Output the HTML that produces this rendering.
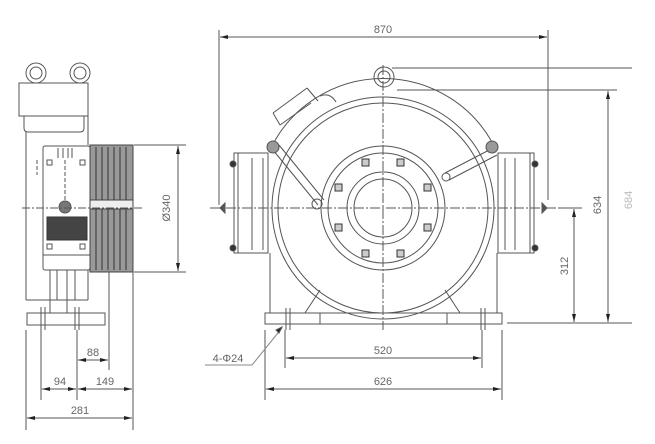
<!DOCTYPE html>
<html><head><meta charset="utf-8"><style>
html,body{margin:0;padding:0;background:#fff;}
svg{display:block}
text{font-family:"Liberation Sans",sans-serif;fill:#666;font-size:11px}
</style></head><body>
<svg width="655" height="444" viewBox="0 0 655 444" xmlns="http://www.w3.org/2000/svg">
<defs>
<marker id="a" markerWidth="8" markerHeight="6" refX="8" refY="3" orient="auto-start-reverse" markerUnits="userSpaceOnUse"><path d="M0,1 L8,3 L0,5z" fill="#222"/></marker>
</defs>
<g stroke="#555" stroke-width="1" fill="none">
<!-- ===== LEFT VIEW ===== -->
<circle cx="36" cy="73" r="10"/><circle cx="36" cy="73" r="6"/>
<circle cx="80" cy="73" r="10"/><circle cx="80" cy="73" r="6"/>
<rect x="19" y="83" width="69" height="33" fill="#fff"/>
<path d="M24 116 V128 Q24 132 28 132 H80 Q84 132 84 128 V116"/>
<path d="M26 132 V300 M88 116 V145"/>
<rect x="43" y="146" width="47" height="124" rx="2"/>
<path d="M43 255 H90"/>
<rect x="47" y="217" width="40" height="23" fill="#444" stroke="#333"/>
<circle cx="65" cy="207" r="6" fill="#777"/>
<path d="M58 148 v10 M63 148 v10 M68 148 v10 M72 148 v10"/>
<rect x="47" y="160" width="5" height="5"/><rect x="80" y="160" width="5" height="5"/>
<rect x="47" y="244" width="5" height="5"/><rect x="80" y="244" width="5" height="5"/>
<path d="M37 160 v15 M65 160 v40" stroke-dasharray="4,2"/>
<rect x="90" y="145" width="43" height="127" fill="#999" stroke="#444"/>
<path d="M96 147 V270 M102 147 V270 M108 147 V270 M114 147 V270 M120 147 V270 M126 147 V270" stroke="#333"/>
<rect x="90" y="200" width="43" height="9" fill="#eee" stroke="#444"/>
<path d="M22 208 H142" stroke-dasharray="8,2,2,2"/>
<path d="M50 270 V313 M57 270 V300 M67 270 V313 M75 270 V300 M88 270 V300"/>
<path d="M26 300 H88"/>
<rect x="27" y="313" width="78" height="12"/>
<path d="M41 307 V330 M45 307 V330 M75 307 V330 M79 307 V330"/>
<path d="M134 145 H186 M134 272 H186"/>
<path d="M178 146 V271" marker-start="url(#a)" marker-end="url(#a)"/>
<path d="M26 330 V430 M41 330 V400 M77 330 V400 M109 272 V370 M133 272 V430"/>
<path d="M78 360 H108" marker-start="url(#a)" marker-end="url(#a)"/>
<path d="M42 389 H76" marker-start="url(#a)" marker-end="url(#a)"/>
<path d="M78 389 H132" marker-start="url(#a)" marker-end="url(#a)"/>
<path d="M27 418 H132" marker-start="url(#a)" marker-end="url(#a)"/>

<!-- ===== FRONT VIEW ===== -->
<path d="M219 30 V205 M548 30 V200"/>
<path d="M220 37 H547" marker-start="url(#a)" marker-end="url(#a)"/>
<circle cx="384" cy="77" r="10"/><circle cx="384" cy="77" r="6"/>
<path d="M392 68 H632 M397 90 H617"/>
<circle cx="383" cy="208" r="111"/>
<circle cx="383" cy="208" r="105"/>
<circle cx="383" cy="208" r="62"/>
<circle cx="383" cy="208" r="55"/>
<circle cx="383" cy="208" r="36"/>
<circle cx="383" cy="208" r="29"/>
<g stroke="#333" fill="#ccc">
<rect x="362" y="159" width="7" height="7"/><rect x="397" y="159" width="7" height="7"/>
<rect x="335" y="184" width="7" height="7"/><rect x="424" y="184" width="7" height="7"/>
<rect x="335" y="224" width="7" height="7"/><rect x="424" y="224" width="7" height="7"/>
<rect x="362" y="250" width="7" height="7"/><rect x="397" y="250" width="7" height="7"/>
</g>
<path d="M270 150 A125 125 0 0 1 496 150"/>
<path d="M273 150 L318 205 M279 145 L324 200"/>
<circle cx="317" cy="204" r="5"/>
<path d="M493 148 L445 173 M497 155 L449 180"/>
<circle cx="446" cy="177" r="4"/>
<circle cx="273" cy="147" r="6" fill="#999"/><circle cx="492" cy="147" r="6" fill="#999"/>
<path d="M273 113 L307 88 M280 125 L311 103 M273 113 L280 125 M307 88 L318 101"/>
<path d="M320 96 Q330 92 336 102"/>
<rect x="234" y="153" width="34" height="100"/>
<path d="M238 153 V253 M252 158 V250 M263 158 V250"/>
<rect x="498" y="153" width="36" height="100"/>
<path d="M530 153 V253 M505 158 V250 M515 158 V250"/>
<circle cx="233" cy="164" r="3" fill="#333"/><circle cx="233" cy="248" r="3" fill="#333"/>
<circle cx="535" cy="164" r="3" fill="#333"/><circle cx="535" cy="248" r="3" fill="#333"/>
<path d="M225 203 l-5 5 l5 5 z M542 203 l5 5 l-5 5 z" fill="#555"/>
<path d="M270 253 V313 M497 253 V313"/>
<path d="M305 313 L320 290 M460 313 L445 290"/>
<rect x="265" y="313" width="237" height="11"/>
<path d="M286 308 V330 M290 308 V330 M481 308 V330 M485 308 V330 M320 313 V324 M447 313 V324"/>
<path d="M210 208 H582" stroke-dasharray="10,2,2,2"/>
<path d="M383 65 V330" stroke-dasharray="10,2,2,2"/>
<path d="M507 323 H632"/>
<path d="M608 91 V322" marker-start="url(#a)" marker-end="url(#a)"/>
<path d="M560 208 H580"/>
<path d="M574 209 V322" marker-start="url(#a)" marker-end="url(#a)"/>
<path d="M265 330 V400 M502 330 V400 M285 330 V368 M482 330 V368"/>
<path d="M286 358 H481" marker-start="url(#a)" marker-end="url(#a)"/>
<path d="M266 389 H501" marker-start="url(#a)" marker-end="url(#a)"/>
<path d="M205 365 H252 L282 328" stroke="#888"/>
<path d="M276 330 l6 -3 l-3 6 z" fill="#222"/>
</g>
<text x="383" y="33" text-anchor="middle">870</text>
<text x="383" y="354" text-anchor="middle" font-size="12">520</text>
<text x="383" y="385" text-anchor="middle" font-size="12">626</text>
<text x="228" y="362" text-anchor="middle" font-size="10">4-Φ24</text>
<text x="93" y="356" text-anchor="middle">88</text>
<text x="60" y="385" text-anchor="middle">94</text>
<text x="105" y="385" text-anchor="middle">149</text>
<text x="80" y="414" text-anchor="middle">281</text>
<text transform="translate(170 208) rotate(-90)" text-anchor="middle">Ø340</text>
<text transform="translate(601 205) rotate(-90)" text-anchor="middle">634</text>
<text transform="translate(568 266) rotate(-90)" text-anchor="middle">312</text>
<text transform="translate(632 200) rotate(-90)" text-anchor="middle" font-size="9" style="fill:#bbb">684</text>
</svg>
</body></html>
